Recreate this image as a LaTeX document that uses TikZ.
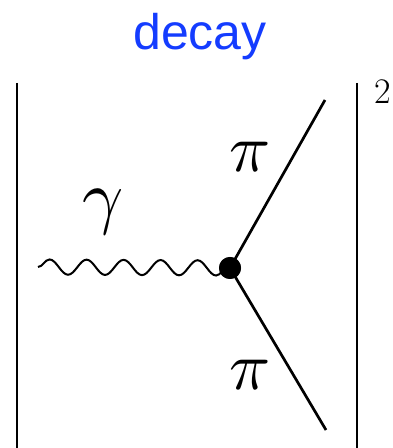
\documentclass[tikz,border=0pt]{standalone}
\usepackage{fontspec}
\newfontfamily\titlefont{Liberation Sans}
\usepackage{tikz}
\usetikzlibrary{decorations.pathmorphing, positioning}
\definecolor{titleblue}{RGB}{20,60,255}

\begin{document}
\begin{tikzpicture}[x=0.5pt, y=0.5pt]
    % Define styles
    \tikzstyle{vertex} = [circle, fill=black, inner sep=0pt, minimum size=11pt]
    \tikzstyle{photon} = [line width=1pt, decorate, decoration={snake, amplitude=3.8pt, segment length=18.5pt}]
    \tikzstyle{pion} = [line width=1.35pt]
    \tikzstyle{absbar} = [line width=1pt]
    \tikzstyle{plabel} = [inner sep=0pt]

    \useasboundingbox (0,0) rectangle (392,448);

    % Title
    \node[anchor=base, text=titleblue, font=\titlefont\fontsize{25}{30}\selectfont] (title) at (200,398) {decay};

    % Absolute value bars
    \coordinate (barLtop) at (17,365);
    \coordinate (barLbot) at (17,0);
    \coordinate (barRtop) at (357,365);
    \coordinate (barRbot) at (357,0);
    \draw[absbar] (barLtop) -- (barLbot);
    \draw[absbar] (barRtop) -- (barRbot);
    \node[plabel, anchor=base, font=\fontsize{18}{21}\selectfont] (square) at (383,344) {2};

    % Vertex and legs
    \node[vertex] (v) at (230,180) {};
    \coordinate (gin) at (38,181);
    \coordinate (piup) at (325,348);
    \coordinate (pidown) at (326,18);

    \draw[photon] (gin) -- (v.center);
    \draw[pion] (v.center) -- (piup);
    \draw[pion] (v.center) -- (pidown);
    \node[vertex] at (v) {};

    % Labels
    \node[plabel, scale=3.6] (gamma) at (103,236) {$\gamma$};
    \node[plabel, scale=3.4] (piuplabel) at (250,291) {$\pi$};
    \node[plabel, scale=3.4] (pidownlabel) at (250,73) {$\pi$};
\end{tikzpicture}
\end{document}
